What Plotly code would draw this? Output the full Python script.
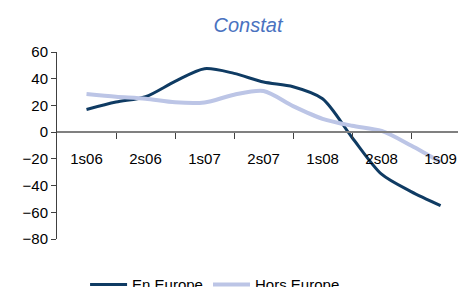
import plotly.graph_objects as go

# Data (quarterly points, x in quarter index from 1s06)
quarters = list(range(13))
en_europe = [17, 22.5, 26.5, 38, 47.5, 44, 37.5, 34, 25, -4, -31.5, -44.5, -55]
hors_europe = [28.5, 26.5, 25, 22.3, 22.2, 28, 30.8, 19.5, 10, 4.8, 0.9, -10, -22.4]
semester_pos = [0, 2, 4, 6, 8, 10, 12]
semester_labels = ["1s06", "2s06", "1s07", "2s07", "1s08", "2s08", "1s09"]
y_ticks = [60, 40, 20, 0, -20, -40, -60, -80]

DARK = "#0f3b63"
LIGHT = "#bcc5e6"

fig = go.Figure()
fig.add_trace(go.Scatter(x=quarters, y=en_europe, mode="lines", name="En Europe",
                         legend="legend",
                         line=dict(color=DARK, width=3, shape="spline", smoothing=0.8)))
fig.add_trace(go.Scatter(x=quarters, y=hors_europe, mode="lines", name="Hors Europe",
                         legend="legend2",
                         line=dict(color=LIGHT, width=4, shape="spline", smoothing=0.8)))

font_main = "Liberation Sans, Arial, sans-serif"
legend_style = dict(orientation="h", xanchor="left", y=-0.244, yanchor="middle",
                    font=dict(family=font_main, size=15, color="black"),
                    bgcolor="rgba(0,0,0,0)", itemwidth=37)

W, H = 458, 287
fig.update_layout(
    width=W, height=H,
    margin=dict(l=57, r=0, t=52, b=48, autoexpand=False),
    paper_bgcolor="white", plot_bgcolor="white",
    title=dict(text="<i>Constat</i>", x=248/W, xanchor="center", y=1-24.5/H, yanchor="middle",
               font=dict(family=font_main, size=20, color="#4a72c0")),
    showlegend=True,
    legend=dict(x=0.070, **legend_style),
    legend2=dict(x=0.3766, **legend_style),
    xaxis=dict(
        automargin=False,
        range=[-1, 12.59], tickmode="array", tickvals=semester_pos, ticktext=semester_labels,
        showgrid=False, zeroline=False, showline=True, linecolor="#808080", linewidth=1.5,
        ticks="outside", ticklen=5, tickcolor="rgba(0,0,0,0)",
        minor=dict(tickmode="array", tickvals=[1, 3, 5, 7, 9, 11], ticks="outside",
                   ticklen=6, tickcolor="#404040", tickwidth=1, showgrid=False),
        anchor="free", position=80/140,
        ticklabelstandoff=8,
        tickfont=dict(family=font_main, size=15, color="black"),
    ),
    yaxis=dict(
        automargin=False,
        range=[-80, 60], tickmode="array", tickvals=y_ticks,
        showgrid=False, zeroline=False, showline=True, linecolor="#404040", linewidth=1,
        ticks="outside", ticklen=5, tickcolor="#404040",
        tickfont=dict(family=font_main, size=15, color="black"),
    ),
)

fig.write_html("out.html", config={"displayModeBar": False},
               post_script="document.body.style.margin='0';")
